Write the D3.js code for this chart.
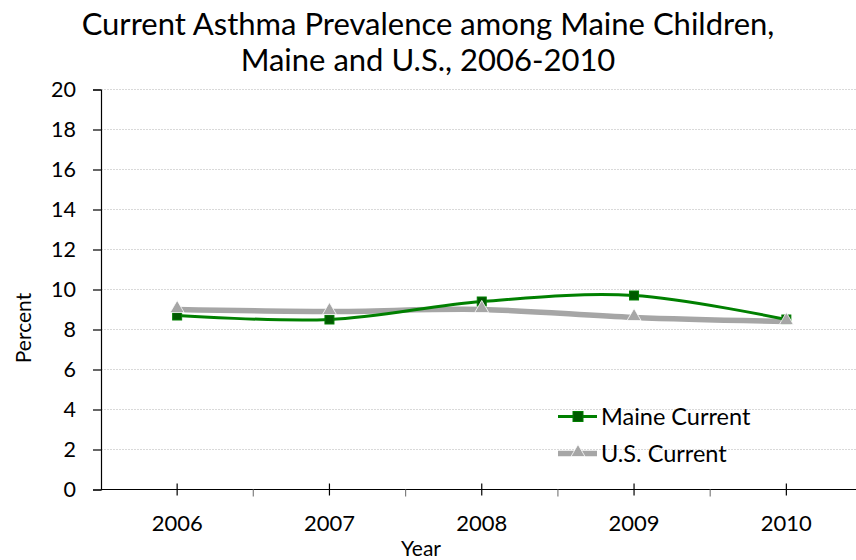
<!DOCTYPE html>
<html>
<head>
<meta charset="utf-8">
<script src="https://cdn.jsdelivr.net/npm/d3@7"></script>
<style>
  html, body { margin: 0; padding: 0; background: #fff; }
  svg { display: block; font-family: Lato, "Open Sans", sans-serif; }
</style>
</head>
<body>
<svg id="chart" width="856" height="560"></svg>
<script>
// Survey years and percentages
const years = ["2006", "2007", "2008", "2009", "2010"];
const maineCurrent = [8.7, 8.5, 9.4, 9.7, 8.5];
const usCurrent = [9.0, 8.9, 9.0, 8.6, 8.4];
const yTicks = [0, 2, 4, 6, 8, 10, 12, 14, 16, 18, 20];
const titleLines = ["Current Asthma Prevalence among Maine Children,", "Maine and U.S., 2006-2010"];
const seriesNames = ["Maine Current", "U.S. Current"];

const svg = d3.select("#chart");
const W = 856, H = 560;
const plotLeft = 101, plotTop = 89.5, plotBottom = 489.5;
const bandW = 152.3;

const x = d3.scaleBand().domain(years).range([plotLeft, plotLeft + bandW * years.length]).paddingInner(0).paddingOuter(0);
const y = d3.scaleLinear().domain([0, 20]).range([plotBottom, plotTop]);
const cx = d => x(d) + x.bandwidth() / 2;

// Horizontal gridlines
svg.append("g").selectAll("line").data(yTicks.filter(t => t > 0)).join("line")
  .attr("x1", plotLeft).attr("x2", W)
  .attr("y1", d => y(d)).attr("y2", d => y(d))
  .attr("stroke", "#d9d9d9").attr("stroke-width", 1).attr("stroke-dasharray", "2,1");

// Y axis
const yAxis = d3.axisLeft(y).tickValues(yTicks).tickSize(8).tickPadding(17).tickFormat(d3.format("d"));
const gy = svg.append("g").attr("transform", `translate(${plotLeft},0)`).call(yAxis);
gy.select(".domain").attr("stroke", "#000").attr("stroke-width", 1.2);
gy.selectAll(".tick line").attr("stroke", "#000").attr("stroke-width", 1.2);
gy.selectAll(".tick text").attr("font-size", 21.5).attr("fill", "#000").attr("font-family", "Lato, sans-serif");

// X axis line
svg.append("line").attr("x1", plotLeft).attr("x2", W).attr("y1", plotBottom).attr("y2", plotBottom)
  .attr("stroke", "#000").attr("stroke-width", 1.2);
// Boundary ticks (outside only)
const bounds = years.map(d => x(d)).concat([x(years[years.length - 1]) + x.bandwidth()]).slice(1);
svg.append("g").selectAll("line").data(bounds).join("line")
  .attr("x1", d => d).attr("x2", d => d).attr("y1", plotBottom).attr("y2", plotBottom + 7)
  .attr("stroke", "#808080").attr("stroke-width", 1.2);
// Category ticks (crossing)
svg.append("g").selectAll("line").data(years).join("line")
  .attr("x1", d => cx(d)).attr("x2", d => cx(d)).attr("y1", plotBottom - 6).attr("y2", plotBottom + 6)
  .attr("stroke", "#000").attr("stroke-width", 1.2);
// Year labels
svg.append("g").selectAll("text").data(years).join("text")
  .attr("x", d => cx(d)).attr("y", 531)
  .attr("text-anchor", "middle").attr("font-size", 22).attr("fill", "#000")
  .text(d => d);

// Axis titles
svg.append("text").attr("x", 421).attr("y", 556).attr("text-anchor", "middle")
  .attr("font-size", 21).attr("fill", "#000").text("Year");
svg.append("text").attr("transform", "translate(31,328) rotate(-90)").attr("text-anchor", "middle")
  .attr("font-size", 21).attr("fill", "#000").text("Percent");

// Title
svg.append("g").selectAll("text").data(titleLines).join("text")
  .attr("x", 428).attr("y", (d, i) => 35 + i * 35.5)
  .attr("text-anchor", "middle").attr("font-size", 31).attr("fill", "#000")
  .text(d => d);

// Lines
const line = d3.line().x((d, i) => cx(years[i])).y(d => y(d)).curve(d3.curveCardinal.tension(0));
svg.append("path").datum(usCurrent).attr("d", line)
  .attr("fill", "none").attr("stroke", "#a6a6a6").attr("stroke-width", 5.5);
svg.append("path").datum(maineCurrent).attr("d", line)
  .attr("fill", "none").attr("stroke", "#008000").attr("stroke-width", 3);

// Markers
const sq = 9;
const tri = d3.symbol().type(d3.symbolTriangle).size(85);
svg.append("g").selectAll("rect").data(maineCurrent).join("rect")
  .attr("x", (d, i) => cx(years[i]) - sq / 2).attr("y", d => y(d) - sq / 2)
  .attr("width", sq).attr("height", sq)
  .attr("fill", "#005a00").attr("stroke", "#008000").attr("stroke-width", 1);
svg.append("g").selectAll("path").data(usCurrent).join("path")
  .attr("d", tri)
  .attr("transform", (d, i) => `translate(${cx(years[i])},${y(d) - 1})`)
  .attr("fill", "#a6a6a6").attr("stroke", "#fff").attr("stroke-width", 0.8);

// Legend
const legend = svg.append("g");
const legY = [416.5, 453.5];
legend.append("line").attr("x1", 558).attr("x2", 597).attr("y1", legY[0]).attr("y2", legY[0])
  .attr("stroke", "#008000").attr("stroke-width", 3);
legend.append("rect").attr("x", 578 - 5).attr("y", legY[0] - 5).attr("width", 10).attr("height", 10)
  .attr("fill", "#005a00").attr("stroke", "#008000").attr("stroke-width", 1);
legend.append("line").attr("x1", 558).attr("x2", 597).attr("y1", legY[1]).attr("y2", legY[1])
  .attr("stroke", "#a6a6a6").attr("stroke-width", 5.5);
legend.append("path").attr("d", tri).attr("transform", `translate(578,${legY[1] - 1})`)
  .attr("fill", "#a6a6a6").attr("stroke", "#fff").attr("stroke-width", 0.8);
legend.selectAll("text").data(seriesNames).join("text")
  .attr("x", 601).attr("y", (d, i) => legY[i] + 8)
  .attr("font-size", 23.5).attr("fill", "#000").text(d => d);
</script>
</body>
</html>
